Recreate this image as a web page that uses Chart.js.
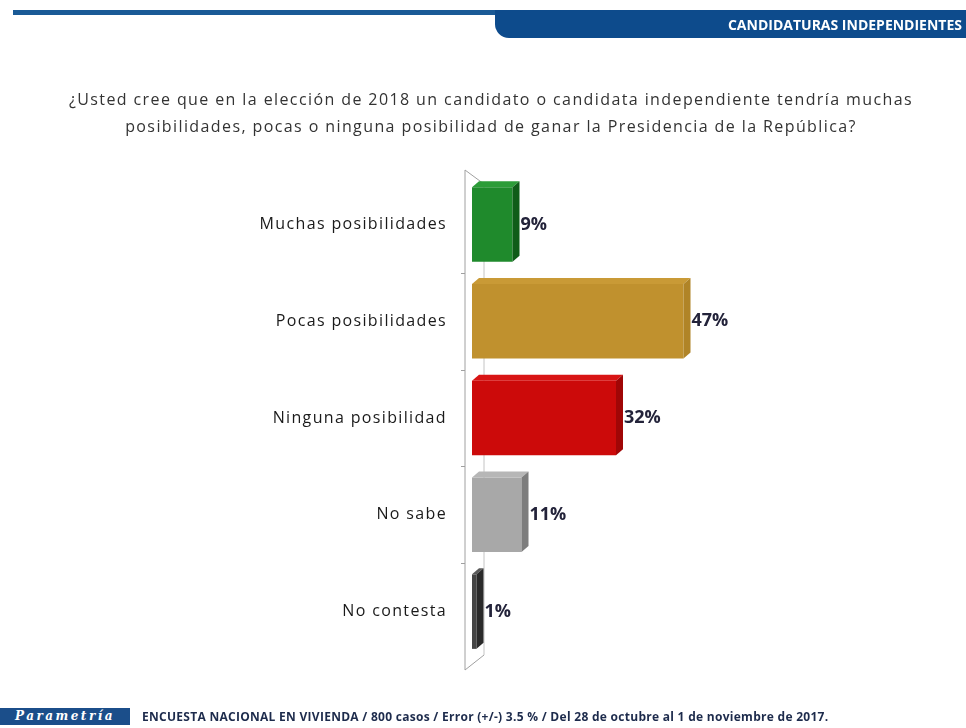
<!DOCTYPE html>
<html>
<head>
<meta charset="utf-8">
<script src="https://cdn.jsdelivr.net/npm/chart.js@4"></script>
<style>
  html, body { margin: 0; padding: 0; background: #fff; }
  #wrap { position: relative; width: 966px; height: 728px; overflow: hidden; background: #fff; }
  #chart { position: absolute; left: 0; top: 0; }
  .strip { position: absolute; left: 13px; top: 10px; width: 490px; height: 5px; background: #1a5a96; }
  .banner {
    position: absolute; left: 495px; top: 10px; width: 471px; height: 28px;
    background: #0d4b8c; border-bottom-left-radius: 14px;
    color: #fff; font: bold 14px 'Open Sans', sans-serif; text-align: right;
    line-height: 30px; padding-right: 4px; box-sizing: border-box;
  }
  .title {
    position: absolute; left: 0; top: 86px; width: 982px; text-align: center;
    font: 16px 'Open Sans', sans-serif; letter-spacing: 1.4px; color: #333; line-height: 27px;
  }
  .logo {
    position: absolute; left: 0; top: 708px; width: 130px; height: 17px;
    background: #1b4e8a; color: #fff; font: italic bold 12px 'DejaVu Serif', serif;
    letter-spacing: 2.5px; line-height: 17px; text-align: center;
  }
  .foot {
    position: absolute; left: 142px; top: 708px; font: bold 12px 'Liberation Sans Narrow', 'Open Sans', sans-serif;
    letter-spacing: 0.28px; color: #1d2b4c; white-space: nowrap;
  }
</style>
</head>
<body>
<div id="wrap">
  <canvas id="chart" width="966" height="728"></canvas>
  <div class="strip"></div>
  <div class="banner">CANDIDATURAS INDEPENDIENTES</div>
  <div class="title">¿Usted cree que en la elección de 2018 un candidato o candidata independiente tendría muchas<br>posibilidades, pocas o ninguna posibilidad de ganar la Presidencia de la República?</div>
  <div class="logo">Parametría</div>
  <div class="foot">ENCUESTA NACIONAL EN VIVIENDA / 800 casos / Error (+/-) 3.5 % / Del 28 de octubre al 1 de noviembre de 2017.</div>
</div>
<script>
// Data
const categories = ['Muchas posibilidades', 'Pocas posibilidades', 'Ninguna posibilidad', 'No sabe', 'No contesta'];
const values = [9, 47, 32, 11, 1];

// Bar colors (front / side / top)
const FRONT = ['#1f8a2c', '#c0912e', '#cc0a0a', '#a8a8a8', '#454545'];
const SIDE = ['#0f5c18', '#b08427', '#a00606', '#7d7d7d', '#2a2a2a'];
const TOP = ['#2c9c38', '#c99a36', '#d81414', '#b6b6b6', '#5a5a5a'];

const DEPTH_X = 7;
const DEPTH_Y = 6;

// wider tracking for the category labels (Calibri-ish width)
const spacing = {
  id: 'spacing',
  beforeDraw(chart) { chart.ctx.letterSpacing = '1.35px'; },
};

// 3D walls, faces and value labels
const bar3d = {
  id: 'bar3d',
  beforeDatasetsDraw(chart) {
    const { ctx, chartArea, scales } = chart;
    const fx = chartArea.left - 7;
    const bx = chartArea.left + 12;
    ctx.save();
    ctx.strokeStyle = '#a0a0a0';
    ctx.lineWidth = 1;
    ctx.beginPath();
    ctx.moveTo(fx, chartArea.top - 6);
    ctx.lineTo(fx, chartArea.bottom + 10);
    ctx.lineTo(bx, chartArea.bottom - 5);
    ctx.moveTo(fx, chartArea.top - 6);
    ctx.lineTo(bx, chartArea.top + 8);
    ctx.stroke();
    ctx.strokeStyle = '#c4c4c4';
    ctx.beginPath();
    ctx.moveTo(bx, chartArea.top + 8);
    ctx.lineTo(bx, chartArea.bottom - 5);
    ctx.stroke();
    // category boundary ticks
    ctx.strokeStyle = '#a0a0a0';
    const y = scales.y;
    for (let i = 1; i < categories.length; i++) {
      const yy = Math.round((y.getPixelForValue(i - 1) + y.getPixelForValue(i)) / 2) + 0.5;
      ctx.beginPath();
      ctx.moveTo(fx - 4, yy);
      ctx.lineTo(fx, yy);
      ctx.stroke();
    }
    ctx.restore();
  },
  afterDatasetsDraw(chart) {
    const { ctx } = chart;
    const meta = chart.getDatasetMeta(0);
    ctx.save();
    ctx.letterSpacing = '0px';
    meta.data.forEach((bar, i) => {
      const { x, y, base, height } = bar.getProps(['x', 'y', 'base', 'height'], true);
      const top = y - height / 2;
      const bottom = y + height / 2;
      // top face
      ctx.fillStyle = TOP[i];
      ctx.beginPath();
      ctx.moveTo(base, top);
      ctx.lineTo(base + DEPTH_X, top - DEPTH_Y);
      ctx.lineTo(x + DEPTH_X, top - DEPTH_Y);
      ctx.lineTo(x, top);
      ctx.closePath();
      ctx.fill();
      // side face
      ctx.fillStyle = SIDE[i];
      ctx.beginPath();
      ctx.moveTo(x, top);
      ctx.lineTo(x + DEPTH_X, top - DEPTH_Y);
      ctx.lineTo(x + DEPTH_X, bottom - DEPTH_Y);
      ctx.lineTo(x, bottom);
      ctx.closePath();
      ctx.fill();
      // value label
      ctx.fillStyle = '#23233a';
      ctx.font = 'bold 18px "Open Sans", sans-serif';
      ctx.textAlign = 'left';
      ctx.textBaseline = 'middle';
      ctx.fillText(values[i] + '%', x + DEPTH_X + 1, y);
    });
    ctx.restore();
  }
};

new Chart(document.getElementById('chart'), {
  type: 'bar',
  data: {
    labels: categories,
    datasets: [{
      data: values,
      backgroundColor: FRONT,
      borderWidth: 0,
      categoryPercentage: 1,
      barPercentage: 0.77,
    }],
  },
  options: {
    indexAxis: 'y',
    responsive: false,
    animation: false,
    events: [],
    layout: { padding: { top: 176, right: 44, bottom: 68, left: 0 } },
    plugins: {
      legend: { display: false },
      tooltip: { enabled: false },
    },
    scales: {
      x: {
        display: false,
        min: 0,
        max: 100,
      },
      y: {
        afterFit: scale => { scale.width = 472; },
        grid: { display: false, drawTicks: false },
        border: { display: false },
        ticks: {
          color: '#1a1a1a',
          padding: 25,
          font: { family: 'Open Sans', size: 16 },
        },
      },
    },
  },
  plugins: [spacing, bar3d],
});
</script>
</body>
</html>
